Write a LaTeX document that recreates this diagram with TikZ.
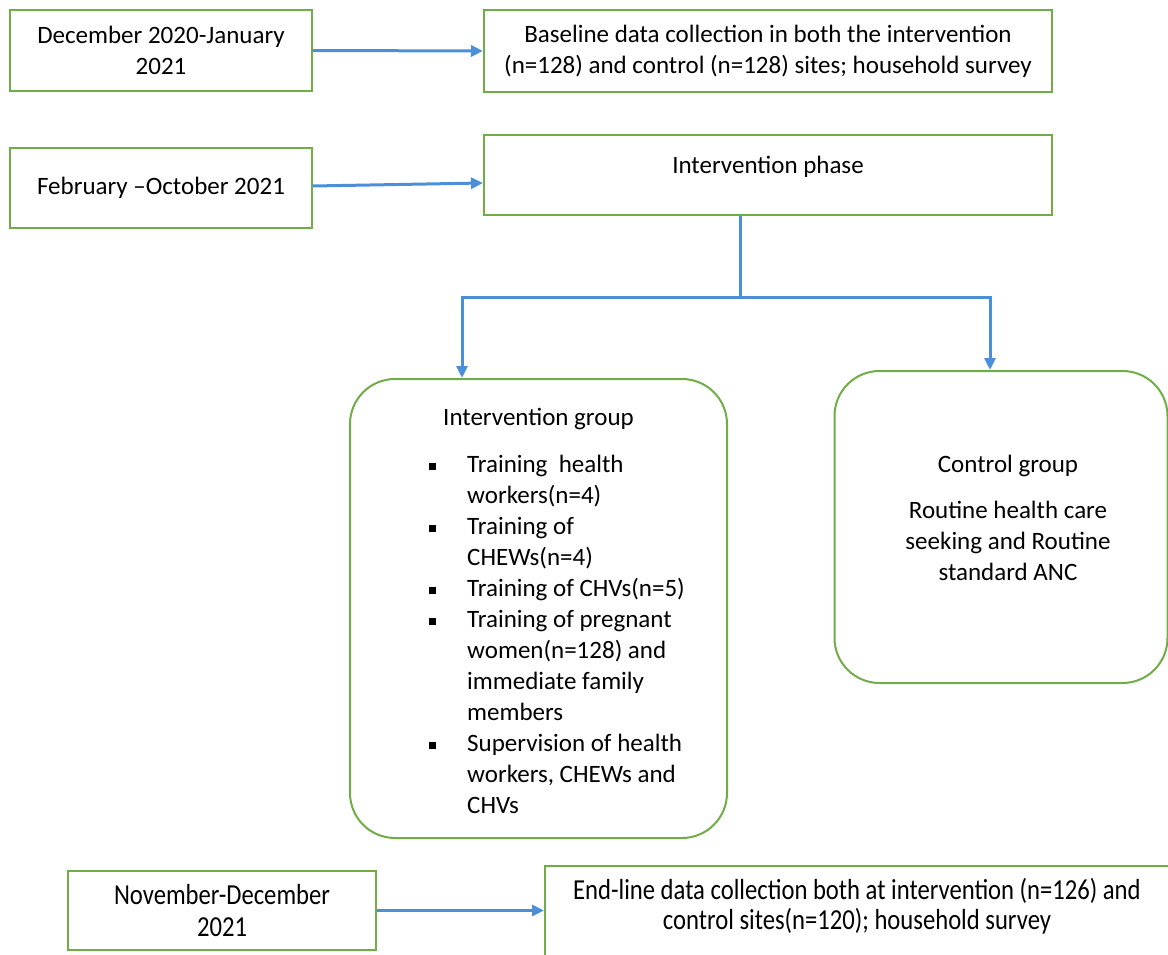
\documentclass[tikz,border=0pt]{standalone}
\usepackage{fontspec}
\setmainfont{Carlito}
\newfontfamily\narrowfont[FakeStretch=0.85]{Carlito}
\usetikzlibrary{arrows.meta,positioning}
\definecolor{boxgreen}{HTML}{70AD47}
\definecolor{arrowblue}{HTML}{4A8FD8}
\newcommand{\sqbullet}{\rule[0.22ex]{7pt}{7pt}}
\tikzset{
  databox/.style={draw=boxgreen, line width=2pt, align=center, inner sep=0pt},
  groupbox/.style={draw=boxgreen, line width=2pt, rounded corners=45pt, inner sep=0pt},
  flow/.style={draw=arrowblue, line width=3pt, -{Triangle[length=12pt,width=11pt]}},
  link/.style={draw=arrowblue, line width=3pt},
}
\begin{document}
\begin{tikzpicture}[x=1pt, y=-1pt, font=\fontsize{25}{31}\selectfont]
    \clip (0,0) rectangle (1168,955);

    % ── Baseline ─────────────────────────────────────────────
    \node[databox, minimum width=302pt, minimum height=81pt] (dec) at (161,50.5)
          {December 2020-January\\2021};
    \node[databox, minimum width=568pt, minimum height=82pt] (base) at (768,51)
          {Baseline data collection in both the intervention\\(n=128) and control (n=128) sites; household survey};
    \draw[flow] (dec.east) -- (base.west);

    % ── Intervention phase ───────────────────────────────────
    \node[databox, minimum width=302pt, minimum height=80pt] (feb) at (161,188)
          {February --October 2021};
    \node[databox, minimum width=568pt, minimum height=80pt] (phase) at (768,175) {};
    \node (phasetitle) at ([yshift=-33pt]phase.north) {Intervention phase};
    \draw[flow] ([yshift=2pt]feb.east) -- ([yshift=-8pt]phase.west);

    % ── Groups ───────────────────────────────────────────────
    \node[groupbox, minimum width=377pt, minimum height=459pt] (intgrp) at (538.5,608.5) {};
    \node (inttitle) at ([yshift=-41pt]intgrp.north) {Intervention group};
    \node[anchor=north west, align=left, inner sep=0pt] (intlist) at (429,451)
          {\begin{tabular}{@{}p{38pt}@{}l@{}}
           \sqbullet & Training\ \ health\\
                     & workers(n=4)\\
           \sqbullet & Training of\\
                     & CHEWs(n=4)\\
           \sqbullet & Training of CHVs(n=5)\\
           \sqbullet & Training of pregnant\\
                     & women(n=128) and\\
                     & immediate family\\
                     & members\\
           \sqbullet & Supervision of health\\
                     & workers, CHEWs and\\
                     & CHVs
           \end{tabular}};

    \node[groupbox, minimum width=333pt, minimum height=312pt] (ctrl) at (1001,527) {};
    \node[align=center] (ctrltext) at ([xshift=7pt, yshift=-148pt]ctrl.north)
          {Control group\\[15pt]Routine health care\\seeking and Routine\\standard ANC};

    \coordinate (split) at ([xshift=-28pt, yshift=-81pt]phase.south);
    \draw[link] ([xshift=-28pt]phase.south) -- (split);
    \draw[flow] (split) -| ([xshift=-76.5pt]intgrp.north);
    \draw[flow] (split) -| ([xshift=-11pt]ctrl.north);

    % ── End-line ─────────────────────────────────────────────
    \node[databox, minimum width=308pt, minimum height=79pt,
          font=\narrowfont\fontsize{29}{32}\selectfont] (nov) at (222,910.5)
          {November-December\\2021};
    \node[databox, minimum width=640pt, minimum height=100pt] (endline) at (865,916) {};
    \node[font=\narrowfont\fontsize{29}{30}\selectfont, align=center] (endtext) at (857,906)
          {End-line data collection both at intervention (n=126) and\\control sites(n=120); household survey};
    \draw[flow] (nov.east) -- (nov.east -| endline.west);
\end{tikzpicture}
\end{document}
